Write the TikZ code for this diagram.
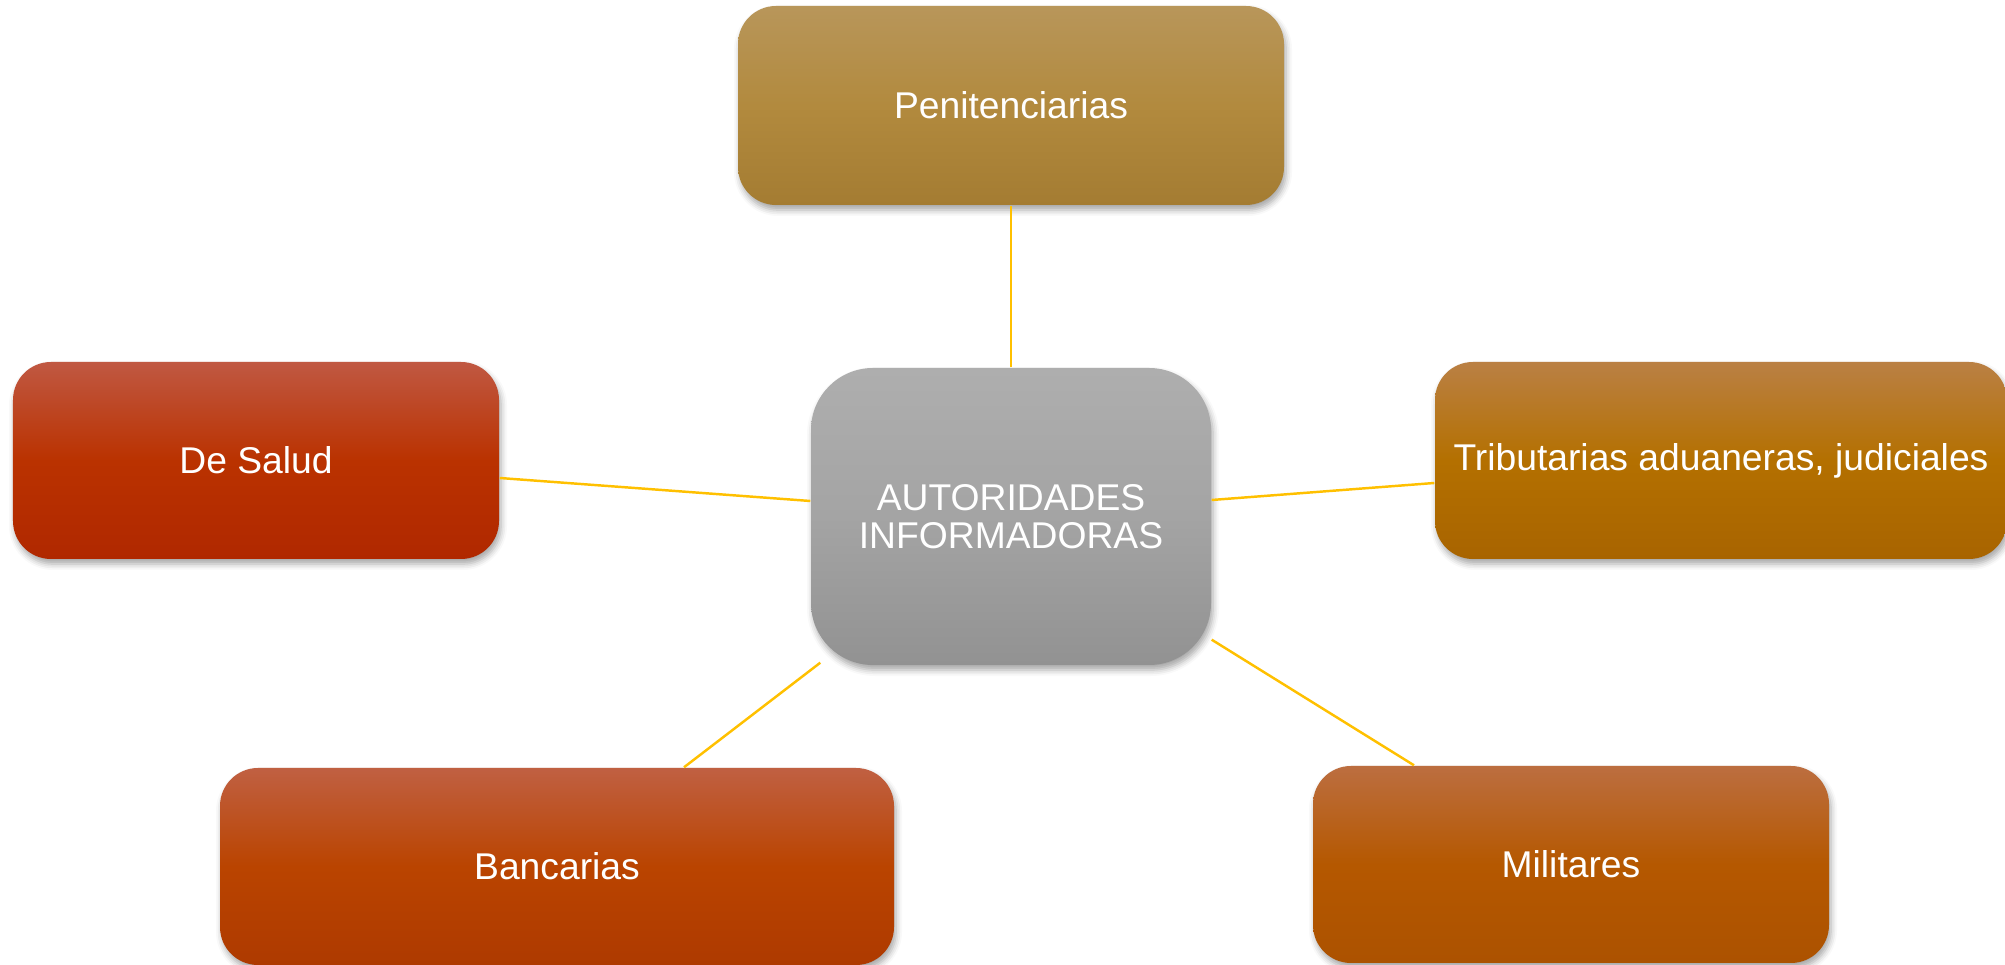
\documentclass[tikz,border=0pt]{standalone}
\usepackage{fontspec}
\setmainfont{Liberation Sans}
\usetikzlibrary{shadows.blur}

\definecolor{linkgold}{RGB}{255,192,0}
\definecolor{pentop}{RGB}{184,150,90}
\definecolor{penmid}{RGB}{178,138,62}
\definecolor{penbot}{RGB}{164,124,50}
\definecolor{hubtop}{RGB}{174,174,174}
\definecolor{hubmid}{RGB}{164,164,164}
\definecolor{hubbot}{RGB}{146,146,146}
\definecolor{saludtop}{RGB}{192,88,66}
\definecolor{saludmid}{RGB}{186,50,0}
\definecolor{saludbot}{RGB}{176,40,0}
\definecolor{tribtop}{RGB}{186,128,68}
\definecolor{tribmid}{RGB}{180,112,0}
\definecolor{tribbot}{RGB}{168,100,0}
\definecolor{banctop}{RGB}{192,96,66}
\definecolor{bancmid}{RGB}{186,68,0}
\definecolor{bancbot}{RGB}{174,58,0}
\definecolor{miltop}{RGB}{188,110,64}
\definecolor{milmid}{RGB}{181,88,0}
\definecolor{milbot}{RGB}{172,82,0}

\begin{document}
\begin{tikzpicture}[
    box/.style={rectangle, rounded corners=0.38cm, text=white, align=center,
      font=\fontsize{10.6}{10.8}\selectfont, inner sep=0pt, minimum height=1.97cm,
      blur shadow={shadow xshift=0.02cm, shadow yshift=-0.05cm, shadow opacity=35, shadow blur radius=0.06cm}},
    link/.style={draw=linkgold, line width=0.7pt}
  ]
  % Fix the page to the size of the reference
  \useasboundingbox (0,0) rectangle (20.05,-9.65);

  % Central node
  \node[box, minimum width=4cm, minimum height=2.97cm, rounded corners=0.62cm,
    top color=hubtop, bottom color=hubbot, middle color=hubmid] (hub) at (10.11,-5.165) {AUTORIDADES\\INFORMADORAS};

  % Outer nodes
  \node[box, minimum width=5.46cm, minimum height=1.99cm,
    top color=pentop, bottom color=penbot, middle color=penmid] (pen) at (10.11,-1.055) {Penitenciarias};
  \node[box, minimum width=4.86cm,
    top color=saludtop, bottom color=saludbot, middle color=saludmid] (salud) at (2.56,-4.605) {De Salud};
  \node[box, minimum width=5.72cm,
    top color=tribtop, bottom color=tribbot, middle color=tribmid] (trib) at (17.21,-4.605) {Tributarias aduaneras, judiciales};
  \node[box, minimum width=6.74cm,
    top color=banctop, bottom color=bancbot, middle color=bancmid] (banc) at (5.57,-8.665) {Bancarias};
  \node[box, minimum width=5.16cm,
    top color=miltop, bottom color=milbot, middle color=milmid] (mil) at (15.71,-8.645) {Militares};

  % Connectors
  \draw[link] (hub.north) -- (pen.south);
  \draw[link] ([yshift=0.155cm]hub.west) -- ([yshift=-0.175cm]salud.east);
  \draw[link] ([yshift=0.165cm]hub.east) -- ([yshift=-0.225cm]trib.west);
  \draw[link] ([xshift=0.1cm,yshift=0.03cm]hub.south west) -- ([xshift=1.27cm]banc.north);
  \draw[link] ([yshift=0.26cm]hub.south east) -- ([xshift=-1.57cm]mil.north);
\end{tikzpicture}
\end{document}
